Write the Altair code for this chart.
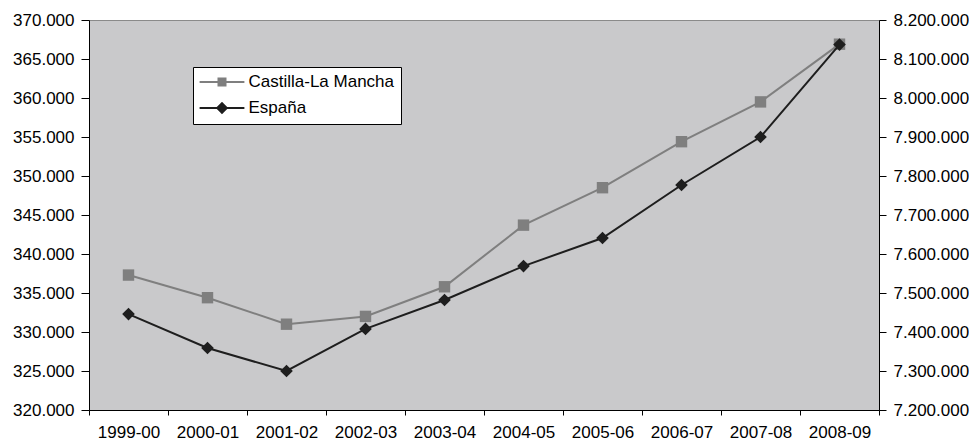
import altair as alt
import pandas as pd

periods = ["1999-00", "2000-01", "2001-02", "2002-03", "2003-04",
           "2004-05", "2005-06", "2006-07", "2007-08", "2008-09"]
clm_values = [337300, 334400, 331000, 332000, 335800, 343700, 348500, 354400, 359500, 366900]
esp_values = [7446000, 7359000, 7300000, 7408000, 7482000, 7569000, 7641000, 7777000, 7900000, 8137000]
series_names = ["Castilla-La Mancha", "España"]
series_colors = ["#7f7f7f", "#1e1e1e"]
left_ticks = list(range(320000, 370001, 5000))
right_ticks = list(range(7200000, 8200001, 100000))

df_clm = pd.DataFrame({"period": periods, "value": clm_values, "series": series_names[0]})
df_esp = pd.DataFrame({"period": periods, "value": esp_values, "series": series_names[1]})
df_all = pd.concat([df_clm, df_esp], ignore_index=True)

FONT = "Liberation Sans"
fmt = "replace(format(datum.value, ',.0f'), regexp(',', 'g'), '.')"

x_enc = alt.X(
    "period:N", sort=periods,
    scale=alt.Scale(type="band", paddingInner=0, paddingOuter=0),
    axis=alt.Axis(title=None, labelAngle=0, tickBand="extent", domainColor="black",
                  tickColor="black", tickSize=5, labelPadding=9, labelFont=FONT,
                  labelFontSize=17, labelColor="black", grid=False),
)

y_left = alt.Y(
    "value:Q",
    scale=alt.Scale(domain=[320000, 370000], nice=False, zero=False),
    axis=alt.Axis(orient="left", values=left_ticks, labelExpr=fmt, title=None, grid=False,
                  tickSize=8, labelPadding=7, domainColor="black", tickColor="black",
                  labelFont=FONT, labelFontSize=17, labelColor="black"),
)
y_right = alt.Y(
    "value:Q",
    scale=alt.Scale(domain=[7200000, 8200000], nice=False, zero=False),
    axis=alt.Axis(orient="right", values=right_ticks, labelExpr=fmt, title=None, grid=False,
                  tickSize=7, labelPadding=7, domainColor="black", tickColor="black",
                  labelFont=FONT, labelFontSize=17, labelColor="black"),
)

# legend symbols: a line segment with the series marker in the middle
sq_path = "M-3.2,0L-0.5,0M0.5,0L3.2,0M-0.5,-0.5L0.5,-0.5L0.5,0.5L-0.5,0.5Z"
di_path = "M-3.2,0L-0.68,0M0.68,0L3.2,0M-0.68,0L0,-0.68L0.68,0L0,0.68Z"

leg = alt.Legend(orient="none", legendX=104, legendY=47, title=None, fillColor="white",
                 strokeColor="black", padding=6.5, labelFont=FONT, labelFontSize=17,
                 labelColor="black", symbolSize=196, symbolStrokeWidth=2, symbolOffset=14,
                 labelOffset=18, symbolOpacity=1, rowPadding=8, cornerRadius=0)

clm_line = alt.Chart(df_clm).mark_line(color=series_colors[0], strokeWidth=2).encode(x=x_enc, y=y_left)
clm_pts = alt.Chart(df_clm).mark_point(shape="square", filled=True, size=130, opacity=1,
                                        color=series_colors[0]).encode(x=x_enc, y=y_left)
legend_layer = alt.Chart(df_all).mark_point(filled=True, opacity=0).encode(
    x=x_enc,
    color=alt.Color("series:N", scale=alt.Scale(domain=series_names, range=series_colors), legend=leg),
    stroke=alt.Stroke("series:N", scale=alt.Scale(domain=series_names, range=series_colors), legend=leg),
    shape=alt.Shape("series:N", scale=alt.Scale(domain=series_names, range=[sq_path, di_path]), legend=leg),
)

esp_line = alt.Chart(df_esp).mark_line(color=series_colors[1], strokeWidth=2).encode(x=x_enc, y=y_right)
esp_pts = alt.Chart(df_esp).mark_point(shape="diamond", filled=True, size=160, opacity=1,
                                        color=series_colors[1]).encode(x=x_enc, y=y_right)

left = alt.layer(clm_line, clm_pts, legend_layer)
right = alt.layer(esp_line, esp_pts)

chart = alt.layer(left, right).resolve_scale(y="independent").properties(
    width=790, height=390,
    autosize=alt.AutoSizeParams(type="none"),
    padding={"left": 81, "top": 12, "right": 90, "bottom": 33},
    background="white",
).configure_view(fill="#c9c9cb", stroke="#8a8a8a", strokeWidth=1)

chart.save("out.html", embed_options={"renderer": "svg", "actions": False})
